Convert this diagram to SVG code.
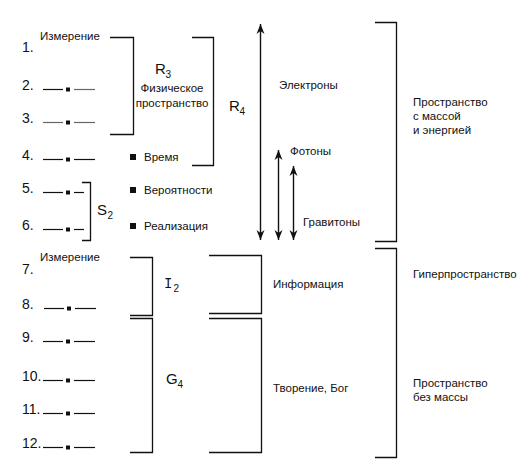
<svg xmlns="http://www.w3.org/2000/svg" width="525" height="475" viewBox="0 0 525 475">
<style>
text{font-family:"Liberation Sans",Arial,sans-serif;fill:#111}
.num{font-size:14px}
.lbl{font-size:11.5px}
.big{font-size:15px}
.sub{font-size:10px}
.mono{font-family:"Liberation Mono","Courier New",monospace;font-size:14px}
.br{fill:none;stroke:#111;stroke-width:1.3}
.ln{stroke:#111;stroke-width:1.2}
.ln2{stroke:#666;stroke-width:1.2}
.arr{stroke:#111;stroke-width:1.4;fill:none}
</style>
<defs>
<marker id="ah" viewBox="0 0 10 10" refX="10" refY="5" markerWidth="10" markerHeight="10" markerUnits="userSpaceOnUse" orient="auto-start-reverse">
<path d="M0,1 L10,5 L0,9 L3,5 Z" fill="#111"/>
</marker>
</defs>
<rect width="525" height="475" fill="#fff"/>

<g id="rows">
<g id="row1"><text class="num" x="22" y="52">1.</text><text class="lbl" x="40" y="40">Измерение</text></g>
<g id="row2"><text class="num" x="22" y="90">2.</text><line class="ln" x1="43" y1="89.5" x2="63" y2="89.5"/><rect x="66" y="87.5" width="4" height="4" fill="#111"/><line class="ln2" x1="74" y1="89.5" x2="95" y2="89.5"/></g>
<g id="row3"><text class="num" x="22" y="123">3.</text><line class="ln2" x1="43" y1="122.5" x2="63" y2="122.5"/><rect x="66" y="120.5" width="4" height="4" fill="#111"/><line class="ln2" x1="74" y1="122.5" x2="95" y2="122.5"/></g>
<g id="row4"><text class="num" x="22" y="160">4.</text><line class="ln" x1="43" y1="159.5" x2="63" y2="159.5"/><rect x="66" y="157.5" width="4" height="4" fill="#111"/><line class="ln" x1="74" y1="159.5" x2="95" y2="159.5"/></g>
<g id="row5"><text class="num" x="22" y="193">5.</text><line class="ln" x1="43" y1="192.5" x2="63" y2="192.5"/><rect x="66" y="190.5" width="4" height="4" fill="#111"/><line class="ln" x1="74" y1="192.5" x2="84" y2="192.5"/></g>
<g id="row6"><text class="num" x="22" y="230">6.</text><line class="ln" x1="43" y1="229.5" x2="63" y2="229.5"/><rect x="66" y="227.5" width="4" height="4" fill="#111"/><line class="ln" x1="74" y1="229.5" x2="84" y2="229.5"/></g>
<g id="row7"><text class="num" x="22" y="274">7.</text><text class="lbl" x="40" y="261">Измерение</text></g>
<g id="row8"><text class="num" x="22" y="309">8.</text><line class="ln" x1="44" y1="308.5" x2="64" y2="308.5"/><rect x="67" y="306.5" width="4" height="4" fill="#111"/><line class="ln" x1="75" y1="308.5" x2="96" y2="308.5"/></g>
<g id="row9"><text class="num" x="22" y="342">9.</text><line class="ln" x1="43" y1="341.5" x2="63" y2="341.5"/><rect x="66" y="339.5" width="4" height="4" fill="#111"/><line class="ln" x1="74" y1="341.5" x2="95" y2="341.5"/></g>
<g id="row10"><text class="num" x="22" y="381">10.</text><line class="ln" x1="43" y1="380.5" x2="63" y2="380.5"/><rect x="66" y="378.5" width="4" height="4" fill="#111"/><line class="ln" x1="74" y1="380.5" x2="95" y2="380.5"/></g>
<g id="row11"><text class="num" x="22" y="414">11.</text><line class="ln" x1="43" y1="413.5" x2="63" y2="413.5"/><rect x="66" y="411.5" width="4" height="4" fill="#111"/><line class="ln" x1="74" y1="413.5" x2="95" y2="413.5"/></g>
<g id="row12"><text class="num" x="22" y="448">12.</text><line class="ln" x1="43" y1="447.5" x2="63" y2="447.5"/><rect x="66" y="445.5" width="4" height="4" fill="#111"/><line class="ln" x1="74" y1="447.5" x2="95" y2="447.5"/></g>
</g>

<g id="R3"><path class="br" d="M110,37.5 H133.5 V134.5 H110"/><text class="big" x="155" y="74">R</text><text class="sub" x="165.5" y="78">3</text><text class="lbl" x="172" y="92" text-anchor="middle">Физическое</text><text class="lbl" x="172" y="107" text-anchor="middle">пространство</text></g>
<g id="R4"><path class="br" d="M192,37.5 H213.5 V165.5 H192"/><text class="big" x="229" y="111">R</text><text class="sub" x="239.5" y="115">4</text></g>
<g id="S2"><path class="br" d="M82,182.5 H90.5 V240.5 H82"/><text class="big" x="97" y="215">S</text><text class="sub" x="107.5" y="219">2</text></g>
<g id="bullets">
<rect x="130" y="154" width="6" height="6" fill="#111"/><text class="lbl" x="144" y="161">Время</text>
<rect x="130" y="187" width="6" height="6" fill="#111"/><text class="lbl" x="144" y="194">Вероятности</text>
<rect x="130" y="223" width="6" height="6" fill="#111"/><text class="lbl" x="144" y="230">Реализация</text>
</g>
<g id="I2"><path class="br" d="M130,257.5 H152.5 V315.5 H130"/><text class="mono" x="164" y="288">I</text><text class="sub" x="173.5" y="292">2</text></g>
<g id="G4"><path class="br" d="M130,318.5 H152.5 V452.5 H130"/><text class="big" x="166" y="384">G</text><text class="sub" x="177.5" y="388">4</text></g>

<g id="connectors">
<line class="arr" x1="260.5" y1="24" x2="260.5" y2="240" marker-start="url(#ah)" marker-end="url(#ah)"/>
<line class="arr" x1="278.5" y1="150" x2="278.5" y2="240" marker-start="url(#ah)" marker-end="url(#ah)"/>
<line class="arr" x1="293.5" y1="166" x2="293.5" y2="240" marker-start="url(#ah)" marker-end="url(#ah)"/>
</g>
<g id="particles">
<text class="lbl" x="279" y="89">Электроны</text>
<text class="lbl" x="290" y="155">Фотоны</text>
<text class="lbl" x="303" y="226">Гравитоны</text>
</g>
<g id="info"><path class="br" d="M209,255.5 H261.5 V313.5 H209"/><text class="lbl" x="273" y="288">Информация</text></g>
<g id="creation"><path class="br" d="M209,318.5 H261.5 V452.5 H209"/><text class="lbl" x="273" y="392">Творение, Бог</text></g>
<g id="mass"><path class="br" d="M375,22.5 H396.5 V241.5 H375"/><text class="lbl" x="413" y="106">Пространство</text><text class="lbl" x="413" y="120">с массой</text><text class="lbl" x="413" y="134">и энергией</text></g>
<g id="nomass"><path class="br" d="M375,248.5 H396.5 V457.5 H375"/><text class="lbl" x="413" y="278">Гиперпространство</text><text class="lbl" x="413" y="387">Пространство</text><text class="lbl" x="413" y="401">без массы</text></g>
</svg>
